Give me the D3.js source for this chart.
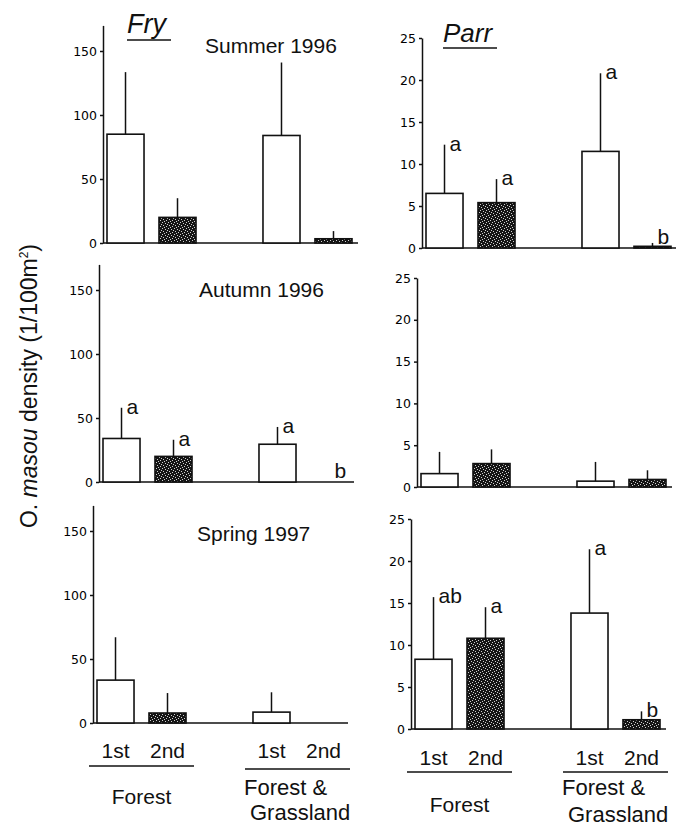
<!DOCTYPE html>
<html>
<head>
<meta charset="utf-8">
<script src="https://cdn.jsdelivr.net/npm/d3@7"></script>
<style>
  body { margin: 0; background: #fff; }
  svg { display: block; }
  text { font-family: "Liberation Sans", Arial, sans-serif; fill: #111; }
  .tick text { font-family: "DejaVu Sans", sans-serif; font-size: 12.5px; fill: #000; }
</style>
</head>
<body>
<svg id="chart" width="676" height="828"></svg>
<script>
// slots along x: two bars per habitat, a gap between habitats
const slots = ["F1", "F2", "gap", "G1", "G2"];
const barSlots = ["F1", "F2", "G1", "G2"];
const barLabels = ["1st", "2nd", "1st", "2nd"];
const barKinds = ["open", "dark", "open", "dark"];
const habitats = ["Forest", "Forest &\nGrassland"];

const fryTicks = [0, 50, 100, 150];
const parrTicks = [0, 5, 10, 15, 20, 25];

// Fry (means, upper error)
const frySummerMean = [85, 20, 84, 3.3];
const frySummerErr = [48.5, 15, 57, 6];
const frySummerLetters = ["", "", "", ""];

const fryAutumnMean = [34, 20, 29.5, 0];
const fryAutumnErr = [24, 13, 13.5, 0];
const fryAutumnLetters = ["a", "a", "a", "b"];

const frySpringMean = [33.5, 7.8, 8.5, 0];
const frySpringErr = [33.5, 15.6, 15.5, 0];
const frySpringLetters = ["", "", "", ""];

// Parr
const parrSummerMean = [6.5, 5.4, 11.5, 0.2];
const parrSummerErr = [5.8, 2.8, 9.3, 0.4];
const parrSummerLetters = ["a", "a", "a", "b"];

const parrAutumnMean = [1.6, 2.8, 0.7, 0.9];
const parrAutumnErr = [2.6, 1.7, 2.3, 1.1];
const parrAutumnLetters = ["", "", "", ""];

const parrSpringMean = [8.3, 10.8, 13.8, 1.1];
const parrSpringErr = [7.4, 3.7, 7.6, 1.0];
const parrSpringLetters = ["ab", "a", "a", "b"];

const svg = d3.select("#chart");

// stipple fill for the 2nd order bars
const pat = svg.append("defs").append("pattern")
  .attr("id", "stipple")
  .attr("patternUnits", "userSpaceOnUse")
  .attr("width", 6).attr("height", 6);
pat.append("rect").attr("width", 6).attr("height", 6).attr("fill", "#151515");
[[0,0],[3,1],[1,3],[4,4],[2,5],[5,2]].forEach(([x, y]) => {
  pat.append("rect").attr("x", x).attr("y", y).attr("width", 1).attr("height", 1).attr("fill", "#d0d0d0");
});

const panels = [
  { ax: 103, y0: 243, max: 170, ppu: 1.28, ticks: fryTicks, mean: frySummerMean, err: frySummerErr, letters: frySummerLetters, title: "Summer 1996", tx: 205, ty: 53 },
  { ax: 99,  y0: 482, max: 170, ppu: 1.28, ticks: fryTicks, mean: fryAutumnMean, err: fryAutumnErr, letters: fryAutumnLetters, title: "Autumn 1996", tx: 199, ty: 297 },
  { ax: 93,  y0: 723, max: 170, ppu: 1.28, ticks: fryTicks, mean: frySpringMean, err: frySpringErr, letters: frySpringLetters, title: "Spring 1997", tx: 197, ty: 541 },
  { ax: 422, y0: 248, max: 25, ppu: 8.4, ticks: parrTicks, mean: parrSummerMean, err: parrSummerErr, letters: parrSummerLetters },
  { ax: 417, y0: 487, max: 25, ppu: 8.36, ticks: parrTicks, mean: parrAutumnMean, err: parrAutumnErr, letters: parrAutumnLetters },
  { ax: 411, y0: 729, max: 25, ppu: 8.4, ticks: parrTicks, mean: parrSpringMean, err: parrSpringErr, letters: parrSpringLetters }
];

panels.forEach(p => {
  const g = svg.append("g");
  const x = d3.scaleBand().domain(slots).range([p.ax + 4, p.ax + 249]).paddingInner(0.288).paddingOuter(0);
  const y = d3.scaleLinear().domain([0, p.max]).range([p.y0, p.y0 - p.max * p.ppu]);

  const rows = barSlots.map((s, i) => ({ slot: s, kind: barKinds[i], m: p.mean[i], e: p.err[i], l: p.letters[i] }));

  // baseline
  g.append("line")
    .attr("x1", p.ax).attr("x2", p.ax + 255)
    .attr("y1", y(0)).attr("y2", y(0))
    .attr("stroke", "#111").attr("stroke-width", 1.6);

  // error lines (upper only)
  g.selectAll(".err").data(rows.filter(d => d.e > 0)).join("line")
    .attr("x1", d => x(d.slot) + x.bandwidth() / 2)
    .attr("x2", d => x(d.slot) + x.bandwidth() / 2)
    .attr("y1", d => y(d.m))
    .attr("y2", d => y(d.m + d.e))
    .attr("stroke", "#111").attr("stroke-width", 1.5);

  g.selectAll(".bar").data(rows.filter(d => d.m > 0)).join("rect")
    .attr("x", d => x(d.slot))
    .attr("y", d => y(d.m))
    .attr("width", x.bandwidth())
    .attr("height", d => y(0) - y(d.m))
    .attr("fill", d => d.kind === "dark" ? "url(#stipple)" : "#fff")
    .attr("stroke", "#111").attr("stroke-width", 1.6);

  g.selectAll(".letter").data(rows.filter(d => d.l)).join("text")
    .attr("x", d => x(d.slot) + x.bandwidth() / 2 + 5)
    .attr("y", d => Math.min(y(d.m + d.e) + 6, y(0) - 4))
    .style("font-size", "21px")
    .text(d => d.l);

  const axis = g.append("g")
    .attr("transform", `translate(${p.ax},0)`)
    .call(d3.axisLeft(y).tickValues(p.ticks).tickSize(3).tickSizeOuter(0).tickPadding(3));
  axis.selectAll("path, line").attr("stroke", "#111").attr("stroke-width", 1.5);

  if (p.title) {
    g.append("text").attr("x", p.tx).attr("y", p.ty).style("font-size", "21px").text(p.title);
  }
});

// column headings
svg.append("text").attr("x", 127).attr("y", 33).style("font-size", "27px").style("font-style", "italic").text("Fry");
svg.append("line").attr("x1", 127).attr("x2", 171).attr("y1", 40).attr("y2", 40).attr("stroke", "#111").attr("stroke-width", 1.5);
svg.append("text").attr("x", 443).attr("y", 42).style("font-size", "26px").style("font-style", "italic").text("Parr");
svg.append("line").attr("x1", 443).attr("x2", 497).attr("y1", 48).attr("y2", 48).attr("stroke", "#111").attr("stroke-width", 1.5);

// category labels under the bottom panels
const bottoms = [
  { p: panels[2], ly: 758, uy: [766, 769], fy: 804, gy: [795, 820] },
  { p: panels[5], ly: 765, uy: [772, 772], fy: 812, gy: [795, 822] }
];
bottoms.forEach(b => {
  const x = d3.scaleBand().domain(slots).range([b.p.ax + 4, b.p.ax + 249]).paddingInner(0.288).paddingOuter(0);
  const g = svg.append("g");
  g.selectAll(".cat").data(barSlots).join("text")
    .attr("x", d => x(d) + x.bandwidth() / 2)
    .attr("y", b.ly)
    .attr("text-anchor", "middle")
    .style("font-size", "21px")
    .text((d, i) => barLabels[i]);
  [["F1", "F2"], ["G1", "G2"]].forEach(([a, c], i) => {
    g.append("line")
      .attr("x1", x(a) - 8).attr("x2", x(c) + x.bandwidth() + 8)
      .attr("y1", b.uy[i]).attr("y2", b.uy[i])
      .attr("stroke", "#111").attr("stroke-width", 1.5);
  });
  g.append("text")
    .attr("x", (x("F1") + x("F2") + x.bandwidth()) / 2).attr("y", b.fy)
    .attr("text-anchor", "middle").style("font-size", "21px")
    .text(habitats[0]);
  habitats[1].split("\n").forEach((t, i) => {
    g.append("text")
      .attr("x", x("G1") - 9 + i * 6).attr("y", b.gy[i])
      .style("font-size", "22px")
      .text(t);
  });
});

// y axis title
const yt = svg.append("text")
  .attr("transform", "translate(37,386) rotate(-90)")
  .attr("text-anchor", "middle")
  .style("font-size", "23px");
yt.append("tspan").text("O. ");
yt.append("tspan").style("font-style", "italic").text("masou");
yt.append("tspan").text(" density (1/100m");
yt.append("tspan").attr("dy", -9).style("font-size", "12px").text("2");
yt.append("tspan").attr("dy", 9).text(")");
</script>
</body>
</html>
